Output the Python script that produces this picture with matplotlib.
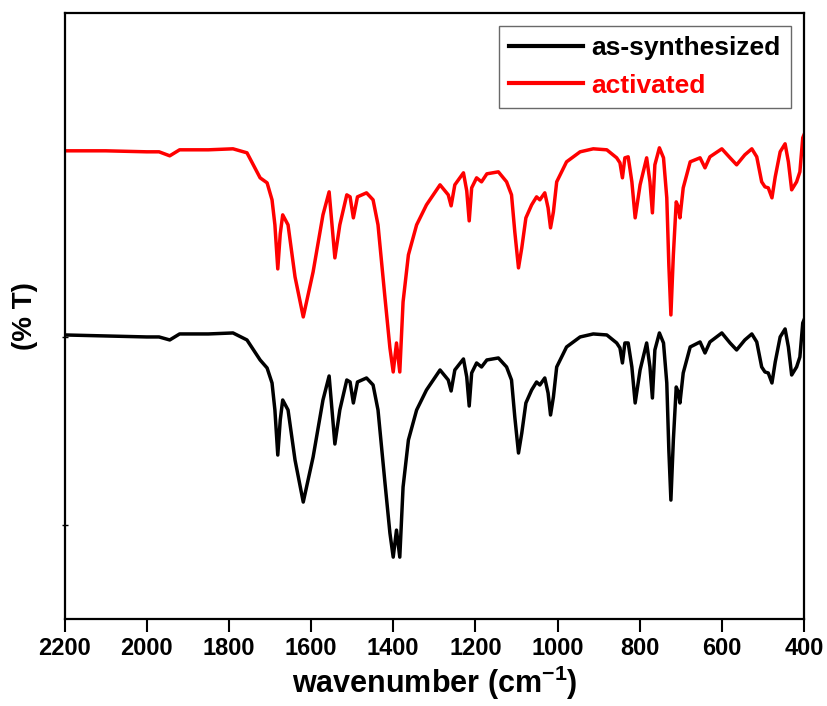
import matplotlib
matplotlib.use("Agg")
import matplotlib.pyplot as plt

# wavenumbers (cm-1) and transmittance (a.u.)
wavenumber = [2200, 2100, 2000, 1970, 1944, 1920, 1850, 1790, 1756, 1724,
              1707, 1695, 1688, 1681, 1675, 1669, 1656, 1639, 1619, 1595,
              1571, 1556, 1549, 1542, 1530, 1513, 1505, 1497, 1487, 1465,
              1449, 1437, 1420, 1408, 1400, 1392, 1384, 1376, 1363, 1343,
              1319, 1286, 1266, 1259, 1250, 1229, 1221, 1215, 1209, 1197,
              1185, 1172, 1144, 1124, 1112, 1104, 1095, 1087, 1077, 1063,
              1051, 1043, 1031, 1023, 1017, 1010, 1002, 978, 945, 913,
              880, 856, 848, 842, 836, 828, 819, 811, 799, 783,
              775, 769, 763, 752, 742, 734, 729, 724, 718, 711,
              706, 702, 694, 677, 653, 641, 629, 600, 580, 564,
              544, 527, 515, 503, 495, 487, 478, 470, 458, 446,
              438, 430, 418, 410, 403, 400]

as_synth = [284, 283, 282, 282, 279, 285, 285, 286, 279, 259,
            251, 236, 209, 164, 199, 219, 209, 159, 117, 162,
            219, 243, 209, 175, 209, 239, 237, 216, 237, 241,
            234, 209, 136, 86, 62, 89, 62, 132, 179, 209,
            229, 249, 239, 228, 249, 260, 242, 213, 246, 256,
            252, 259, 261, 252, 239, 202, 166, 186, 216, 229,
            237, 234, 241, 226, 204, 222, 252, 272, 282, 285,
            284, 276, 271, 256, 276, 276, 252, 216, 249, 276,
            252, 221, 269, 286, 276, 236, 169, 119, 179, 232,
            227, 216, 246, 272, 277, 266, 277, 286, 276, 269,
            279, 285, 277, 252, 247, 246, 236, 257, 282, 290,
            272, 244, 252, 262, 296, 299]

activated = [468, 468, 467, 467, 463, 469, 469, 470, 466, 441,
             436, 419, 394, 350, 385, 404, 394, 342, 302, 347,
             404, 427, 394, 361, 394, 424, 422, 401, 422, 426,
             419, 394, 321, 271, 247, 276, 247, 317, 364, 394,
             414, 434, 424, 413, 434, 446, 428, 398, 431, 441,
             437, 445, 447, 437, 424, 387, 351, 371, 401, 414,
             422, 419, 426, 411, 391, 407, 437, 457, 467, 470,
             469, 461, 456, 441, 461, 462, 437, 401, 434, 461,
             437, 406, 454, 471, 461, 421, 354, 304, 364, 417,
             412, 401, 431, 457, 461, 451, 462, 470, 461, 454,
             464, 470, 462, 437, 432, 431, 421, 442, 467, 475,
             457, 429, 437, 447, 481, 484]

x_ticks = [2200, 2000, 1800, 1600, 1400, 1200, 1000, 800, 600, 400]

plt.rcParams["font.family"] = ["Liberation Sans", "DejaVu Sans"]
plt.rcParams["mathtext.fontset"] = "custom"
plt.rcParams["mathtext.rm"] = "Liberation Sans:bold"
plt.rcParams["mathtext.bf"] = "Liberation Sans:bold"

fig = plt.figure(figsize=(8.28, 7.06), dpi=100)
ax = fig.add_axes([0.078, 0.123, 0.893, 0.859])

ax.plot(wavenumber, as_synth, color="black", lw=2.5, label="as-synthesized")
ax.plot(wavenumber, activated, color="red", lw=2.5, label="activated")

ax.set_xlim(2200, 400)
ax.set_ylim(0, 606)
ax.set_xticks(x_ticks)
ax.set_xticks(range(2100, 400, 200), minor=True)
ax.set_yticks([94, 282])
ax.set_yticklabels([])
ax.tick_params(axis="x", which="major", direction="out", length=9, width=1.5,
               labelsize=17)
ax.tick_params(axis="x", which="minor", direction="out", length=5, width=1.5)
ax.tick_params(axis="y", direction="inout", length=4, width=1)
for lbl in ax.get_xticklabels():
    lbl.set_fontweight("bold")

for sp in ax.spines.values():
    sp.set_linewidth(1.6)

ax.set_xlabel("wavenumber (cm$^{-1}$)", fontsize=22, fontweight="bold",
              labelpad=3)
ax.set_ylabel("(% T)", fontsize=20, fontweight="bold", labelpad=14)

leg = ax.legend(loc="upper right", frameon=True, fancybox=False,
                edgecolor="#444444", handlelength=2.8, handletextpad=0.3,
                borderaxespad=0.5, labelspacing=0.5, borderpad=0.4,
                prop={"weight": "bold", "size": 19})
leg.get_frame().set_linewidth(1.0)
for txt, line in zip(leg.get_texts(), leg.get_lines()):
    txt.set_color(line.get_color())
    line.set_linewidth(3)

fig.savefig("out.png", dpi=100)
